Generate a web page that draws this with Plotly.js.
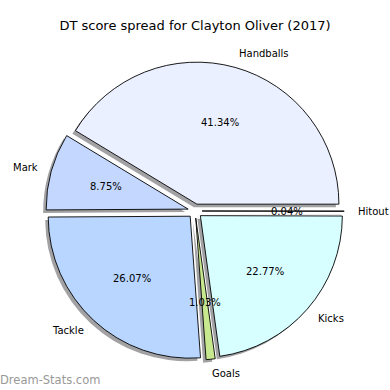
<!DOCTYPE html>
<html><head><meta charset="utf-8">
<script src="https://cdn.plot.ly/plotly-3.0.1.min.js"></script>
<style>body{margin:0;background:#fff}#chart{width:390px;height:390px}</style>
</head><body><div id="chart"></div>
<script>
// Data
const categories = ['Handballs', 'Mark', 'Tackle', 'Goals', 'Kicks', 'Hitout'];
const percents = [41.34, 8.75, 26.07, 1.03, 22.77, 0.04];
const sliceColors = ['#eaf0ff', '#c4d8ff', '#b8d6ff', '#c8e890', '#d8ffff', '#e6ffe6'];
const explode = [0.05, 0.05, 0.05, 0.05, 0.05, 0.05];
const titleText = 'DT score spread for Clayton Oliver (2017)';
const watermark = 'Dream-Stats.com';

// Geometry of the pie on the page
const W = 390, H = 390;
const CX = 195, CY = 211, R = 142;     // centre (px from top-left) and radius
const maxPull = Math.max(...explode);
const box = 2 * R * (1 + maxPull);
const SHX = -3, SHY = 3;               // shadow offset in px

function dom(dx, dy) {
  return {
    x: [(CX + dx - box / 2) / W, (CX + dx + box / 2) / W],
    y: [(H - CY - dy - box / 2) / H, (H - CY - dy + box / 2) / H]
  };
}

// Plotly draws clockwise from the rotation angle; reverse the order so that the
// first category starts at 3 o'clock and runs counter-clockwise (as in the original)
const rev = a => a.slice().reverse();
const shadowColors = sliceColors.map(() => 'rgba(70,70,75,0.5)');

const shadow = {
  type: 'pie', labels: rev(categories), values: rev(percents), sort: false,
  direction: 'clockwise', rotation: 90, pull: rev(explode),
  marker: {colors: shadowColors, line: {width: 0}},
  textinfo: 'none', hoverinfo: 'skip', showlegend: false,
  domain: dom(SHX, SHY)
};
const pie = {
  type: 'pie', labels: rev(categories), values: rev(percents), sort: false,
  direction: 'clockwise', rotation: 90, pull: rev(explode),
  marker: {colors: rev(sliceColors), line: {color: '#000', width: 0.9}},
  textinfo: 'none', hoverinfo: 'label+percent', showlegend: false,
  domain: dom(0, 0)
};

// Text labels placed like matplotlib (label at 1.1 r, percent at 0.6 r, plus explode)
const total = percents.reduce((a, b) => a + b, 0);
const annotations = [];
let cum = 0;
const txt = {showarrow: false, borderpad: 0, borderwidth: 0, xref: 'paper', yref: 'paper'};
percents.forEach((p, i) => {
  const mid = (cum + p / 2) / total * 2 * Math.PI;
  cum += p;
  const c = Math.cos(mid), s = Math.sin(mid);
  const e = explode[i];
  const lx = CX + (1.1 + e) * R * c, ly = CY - (1.1 + e) * R * s;
  const px = CX + (0.6 + e) * R * c, py = CY - (0.6 + e) * R * s;
  annotations.push(Object.assign({}, txt, {
    x: lx / W, y: 1 - ly / H, text: categories[i],
    xanchor: c > 0 ? 'left' : 'right', yanchor: 'middle',
    font: {family: 'DejaVu Sans', size: 10, color: '#000'}
  }));
  annotations.push(Object.assign({}, txt, {
    x: px / W, y: 1 - py / H, text: p.toFixed(2) + '%',
    xanchor: 'center', yanchor: 'middle',
    font: {family: 'DejaVu Sans', size: 10, color: '#000'}
  }));
});
annotations.push(Object.assign({}, txt, {
  x: 0, y: 1 - 380 / H, text: watermark, xanchor: 'left', yanchor: 'middle',
  font: {family: 'DejaVu Sans', size: 11.5, color: '#999999'}
}));

const layout = {
  width: W, height: H,
  margin: {l: 0, r: 0, t: 0, b: 0},
  paper_bgcolor: '#fff', plot_bgcolor: '#fff',
  title: {text: titleText, x: 0.5, xanchor: 'center', y: 1 - 25 / H, yanchor: 'middle',
          font: {family: 'DejaVu Sans', size: 13, color: '#000'}},
  annotations: annotations,
  showlegend: false
};

Plotly.newPlot('chart', [shadow, pie], layout, {staticPlot: true, displayModeBar: false});
</script>
</body></html>
